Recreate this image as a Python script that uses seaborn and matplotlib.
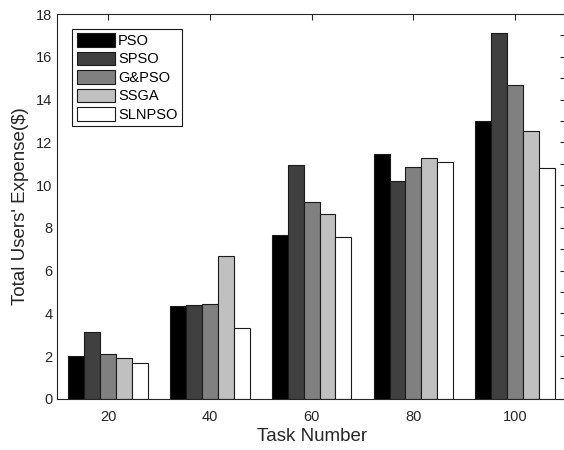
import matplotlib
matplotlib.use("Agg")
import matplotlib.pyplot as plt
import seaborn as sns
import pandas as pd
from matplotlib.ticker import MultipleLocator

tasks = ["20", "40", "60", "80", "100"]
methods = ["PSO", "SPSO", "G&PSO", "SSGA", "SLNPSO"]
pso = [2.00, 4.35, 7.68, 11.44, 13.01]
spso = [3.12, 4.41, 10.95, 10.18, 17.11]
gpso = [2.09, 4.44, 9.21, 10.85, 14.68]
ssga = [1.92, 6.70, 8.65, 11.25, 12.54]
slnpso = [1.68, 3.30, 7.59, 11.08, 10.81]
colors = ["#000000", "#404040", "#808080", "#c0c0c0", "#ffffff"]

series = [pso, spso, gpso, ssga, slnpso]
rows = []
for m, vals in zip(methods, series):
    for t, v in zip(tasks, vals):
        rows.append({"Task": t, "Method": m, "Value": v})
df = pd.DataFrame(rows)

sns.set_style("white")
plt.rcParams['font.family'] = ['Liberation Sans', 'DejaVu Sans']

fig = plt.figure(figsize=(5.64, 4.5), dpi=100)
ax = fig.add_axes([57.3 / 564, 51 / 450, (566 - 57.3) / 564, 385 / 450])

sns.barplot(data=df, x="Task", y="Value", hue="Method", order=tasks,
            hue_order=methods, palette=colors, edgecolor="#1a1a1a",
            linewidth=0.8, width=0.78, gap=0, ax=ax, errorbar=None)

ax.set_xlim(-0.5, 4.5)
ax.set_ylim(0, 18)
ax.yaxis.set_major_locator(MultipleLocator(2))
ax.yaxis.set_minor_locator(MultipleLocator(1))
axcol = "#262626"
for s in ax.spines.values():
    s.set_visible(True)
    s.set_color(axcol)
    s.set_linewidth(0.8)
ax.tick_params(axis="both", which="both", direction="in", top=True, right=True,
               colors=axcol, labelsize=10.5, length=4, width=0.8)
ax.tick_params(axis="y", which="minor", length=4)
ax.tick_params(axis="x", pad=8)
ax.set_xlabel("Task Number", fontsize=13.5, color=axcol, labelpad=3)
ax.set_ylabel("Total Users' Expense($)", fontsize=13.5, color=axcol, labelpad=5)

leg = ax.legend(loc="upper left", bbox_to_anchor=(0.0295, 0.962), fontsize=10.5,
                frameon=True, fancybox=False, framealpha=1, edgecolor="#1a1a1a",
                handlelength=2.6, handleheight=1.05, labelspacing=0.26,
                handletextpad=0.25, borderpad=0.3, borderaxespad=0)
leg.get_frame().set_linewidth(0.8)
for t in leg.get_texts():
    t.set_color("#000000")

fig.savefig("out.png", dpi=100)
